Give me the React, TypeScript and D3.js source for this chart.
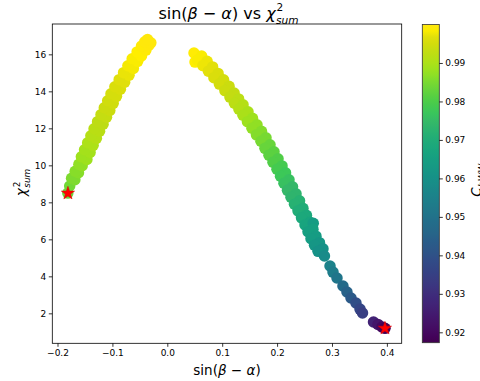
import React, { useEffect, useRef } from 'react';
import * as d3 from 'd3';

// [sin(beta-alpha), chi2_sum, colour value]
type Pt = [number, number, number];

const leftBranch: Pt[] = [
  [-0.1812, 8.5, 0.9835],
  [-0.1778, 8.88, 0.9841],
  [-0.1684, 9.22, 0.9852], [-0.1744, 9.3, 0.9852],
  [-0.1618, 9.6, 0.9863], [-0.1678, 9.68, 0.9863],
  [-0.1551, 9.98, 0.9874], [-0.1611, 10.06, 0.9874],
  [-0.1465, 10.32, 0.9885], [-0.1565, 10.46, 0.9885],
  [-0.1407, 10.7, 0.9893], [-0.1507, 10.84, 0.9893],
  [-0.1351, 11.08, 0.9901], [-0.1451, 11.22, 0.9901],
  [-0.1292, 11.46, 0.991], [-0.1392, 11.6, 0.991],
  [-0.1234, 11.84, 0.9917], [-0.1334, 11.98, 0.9917],
  [-0.117, 12.22, 0.9925], [-0.127, 12.36, 0.9925],
  [-0.1108, 12.6, 0.9933], [-0.1208, 12.74, 0.9933],
  [-0.1048, 12.97, 0.994], [-0.1148, 13.11, 0.994],
  [-0.0986, 13.35, 0.9946], [-0.1086, 13.49, 0.9946],
  [-0.0926, 13.73, 0.9952], [-0.1026, 13.87, 0.9952],
  [-0.0855, 14.11, 0.9959], [-0.0955, 14.25, 0.9959],
  [-0.0777, 14.49, 0.9966], [-0.0877, 14.63, 0.9966],
  [-0.0697, 14.87, 0.9972], [-0.0797, 15.01, 0.9972],
  [-0.0618, 15.24, 0.9978], [-0.0718, 15.38, 0.9978],
  [-0.054, 15.62, 0.9983], [-0.064, 15.76, 0.9983],
  [-0.047, 15.91, 0.9987], [-0.055, 16.13, 0.9987],
  [-0.039, 16.23, 0.9991], [-0.047, 16.45, 0.9991],
  [-0.034, 16.48, 0.9994], [-0.041, 16.68, 0.9994],
  [-0.03, 16.62, 0.9995], [-0.036, 16.8, 0.9995],
];

const rightBranch: Pt[] = [
  [0.0486, 16.07, 0.9988],
  [0.0505, 15.58, 0.9987],
  [0.0625, 15.91, 0.9983], [0.0549, 15.69, 0.9983],
  [0.0725, 15.62, 0.9976], [0.0649, 15.39, 0.9976],
  [0.0825, 15.32, 0.9969], [0.0749, 15.09, 0.9969],
  [0.0925, 14.97, 0.9961], [0.0849, 14.74, 0.9961],
  [0.1025, 14.62, 0.9951], [0.0949, 14.39, 0.9951],
  [0.1125, 14.27, 0.9941], [0.1049, 14.04, 0.9941],
  [0.1217, 13.91, 0.993], [0.1141, 13.69, 0.993],
  [0.1299, 13.59, 0.992], [0.1223, 13.36, 0.992],
  [0.138, 13.27, 0.991], [0.1304, 13.04, 0.991],
  [0.147, 12.89, 0.9898], [0.1378, 12.71, 0.9898],
  [0.1552, 12.54, 0.9886], [0.146, 12.36, 0.9886],
  [0.1634, 12.19, 0.9873], [0.1542, 12.01, 0.9873],
  [0.1716, 11.84, 0.986], [0.1624, 11.65, 0.986],
  [0.1798, 11.49, 0.9845], [0.1706, 11.3, 0.9845],
  [0.1871, 11.11, 0.9832], [0.1779, 10.92, 0.9832],
  [0.1944, 10.73, 0.9818], [0.1852, 10.55, 0.9818],
  [0.2017, 10.35, 0.9804], [0.1925, 10.17, 0.9804],
  [0.209, 9.97, 0.9789], [0.1998, 9.79, 0.9789],
  [0.2154, 9.6, 0.9775], [0.2062, 9.41, 0.9775],
  [0.2217, 9.22, 0.9762], [0.2125, 9.03, 0.9762],
  [0.2281, 8.84, 0.9747], [0.2189, 8.65, 0.9747],
  [0.2345, 8.46, 0.9732], [0.2253, 8.28, 0.9732],
  [0.2409, 8.08, 0.9717], [0.2317, 7.9, 0.9717],
  [0.2471, 7.68, 0.9701], [0.2381, 7.54, 0.9701],
  [0.2535, 7.3, 0.9685], [0.2445, 7.16, 0.9685],
  [0.2599, 6.92, 0.9669], [0.2509, 6.78, 0.9669],
  [0.2659, 6.87, 0.964],
  [0.2653, 6.55, 0.9654], [0.2563, 6.41, 0.9654],
  [0.2708, 6.17, 0.9639], [0.2618, 6.03, 0.9639],
  [0.2772, 5.82, 0.9621], [0.2682, 5.68, 0.9621],
  [0.2836, 5.49, 0.9603], [0.2746, 5.35, 0.9603],
  [0.2863, 5.1, 0.9582],
  [0.2964, 4.56, 0.9551],
  [0.3018, 4.23, 0.9533],
  [0.3091, 3.91, 0.951],
  [0.32, 3.48, 0.9474],
  [0.3273, 3.15, 0.9449],
  [0.3346, 2.83, 0.9424],
  [0.3437, 2.56, 0.9391],
  [0.351, 2.23, 0.9364],
  [0.3556, 2.02, 0.9347],
  [0.3756, 1.53, 0.9268],
  [0.3838, 1.4, 0.9234],
  [0.3911, 1.26, 0.9204],
  [0.3965, 1.19, 0.918],
];

const stars: [number, number][] = [[-0.181, 8.49], [0.3965, 1.19]];

const xTicks = [-0.2, -0.1, 0.0, 0.1, 0.2, 0.3, 0.4];
const yTicks = [2, 4, 6, 8, 10, 12, 14, 16];
const cTicks = [0.92, 0.93, 0.94, 0.95, 0.96, 0.97, 0.98, 0.99];
const xDomain = [-0.2095, 0.427];
const yDomain = [0.38, 17.64];
const cDomain = [0.9173, 1.0];

const W = 480;
const H = 381;
const M = { left: 52.3, right: 401.7, top: 24, bottom: 343.3 };
const CB = { x: 422.3, w: 17, top: 24.5, bottom: 342.7 };
const FONT = "'DejaVu Sans', sans-serif";

// viridis, slightly deeper like the original render
const cmap = (t: number) => {
  const h = d3.hsl(d3.interpolateViridis(t));
  h.s = Math.min(1, h.s * 1.12);
  h.l = h.l * 0.93;
  return h.formatHex();
};

export default function App() {
  const svgRef = useRef<SVGSVGElement>(null);

  useEffect(() => {
    if (!svgRef.current) return;
    const svg = d3.select(svgRef.current);
    svg.selectAll('*').remove();

    const x = d3.scaleLinear().domain(xDomain).range([M.left, M.right]);
    const y = d3.scaleLinear().domain(yDomain).range([M.bottom, M.top]);
    const c = d3.scaleSequential(cmap).domain(cDomain);
    const cy = d3.scaleLinear().domain(cDomain).range([CB.bottom, CB.top]);

    svg.append('rect').attr('width', W).attr('height', H).attr('fill', '#fff');

    // scatter
    svg.append('g')
      .selectAll('circle')
      .data([...leftBranch, ...rightBranch])
      .join('circle')
      .attr('cx', d => x(d[0]))
      .attr('cy', d => y(d[1]))
      .attr('r', 5.75)
      .attr('fill', d => c(d[2]));

    // best points
    svg.append('g')
      .selectAll('path')
      .data(stars)
      .join('path')
      .attr('transform', d => `translate(${x(d[0])},${y(d[1])})`)
      .attr('d', d3.symbol(d3.symbolStar, 55)()!)
      .attr('fill', '#ff0000')
      .attr('stroke', '#e00000')
      .attr('stroke-width', 0.5);

    // axes
    const styleAxis = (g: d3.Selection<SVGGElement, unknown, null, undefined>) => {
      g.select('.domain').remove();
      g.selectAll('line').attr('stroke', '#000').attr('stroke-width', 0.8);
      g.selectAll('text').attr('fill', '#000').style('font-family', FONT).style('font-size', '9px');
    };

    svg.append('g')
      .attr('transform', `translate(0,${M.bottom})`)
      .call(d3.axisBottom(x).tickValues(xTicks).tickSize(3.5).tickPadding(2.5).tickFormat(d3.format('.1f')))
      .call(styleAxis);

    svg.append('g')
      .attr('transform', `translate(${M.left},0)`)
      .call(d3.axisLeft(y).tickValues(yTicks).tickSize(3.5).tickPadding(2.5).tickFormat(d3.format('d')))
      .call(styleAxis);

    svg.append('rect')
      .attr('x', M.left).attr('y', M.top)
      .attr('width', M.right - M.left).attr('height', M.bottom - M.top)
      .attr('fill', 'none').attr('stroke', '#000').attr('stroke-width', 0.8);

    // colorbar
    const grad = svg.append('defs').append('linearGradient')
      .attr('id', 'cbar').attr('x1', 0).attr('y1', 1).attr('x2', 0).attr('y2', 0);
    d3.range(0, 1.0001, 0.02).forEach(t => {
      grad.append('stop').attr('offset', t).attr('stop-color', cmap(t));
    });
    svg.append('rect')
      .attr('x', CB.x).attr('y', CB.top).attr('width', CB.w).attr('height', CB.bottom - CB.top)
      .attr('fill', 'url(#cbar)').attr('stroke', '#333').attr('stroke-width', 0.8);
    svg.append('g')
      .attr('transform', `translate(${CB.x + CB.w},0)`)
      .call(d3.axisRight(cy).tickValues(cTicks).tickSize(3.5).tickPadding(2.5).tickFormat(d3.format('.2f')))
      .call(styleAxis);

    // math-ish labels: main text, then stacked super/subscript after measuring
    const mathLabel = (
      g: d3.Selection<SVGGElement, unknown, null, undefined>,
      parts: [string, boolean][],
      size: number,
      sup: string | null,
      sub: string | null,
    ) => {
      const t = g.append('text').style('font-family', FONT).style('font-size', `${size}px`).attr('fill', '#000');
      parts.forEach(([s, it]) => t.append('tspan').attr('font-style', it ? 'italic' : 'normal').text(s));
      const base = (t.node() as SVGTextElement).getComputedTextLength();
      const small = size * 0.66;
      if (sup) g.append('text').attr('x', base + 1).attr('y', -size * 0.46)
        .style('font-family', FONT).style('font-size', `${small}px`).text(sup);
      if (sub) g.append('text').attr('x', base + 0.5).attr('y', size * 0.33)
        .style('font-family', FONT).style('font-size', `${small}px`).attr('font-style', 'italic').text(sub);
      const subW = sub ? sub.length * small * 0.6 : 0;
      return base + Math.max(subW, sup ? small * 0.64 : 0) + 1;
    };

    // title
    const tg = svg.append('g');
    const tw = mathLabel(tg, [['sin(', false], ['β', true], [' − ', false], ['α', true], [') vs ', false], ['χ', true]], 16, '2', 'sum');
    tg.attr('transform', `translate(${(M.left + M.right) / 2 - tw / 2},18.5)`);

    // x label
    const xg = svg.append('g');
    const xw = mathLabel(xg, [['sin(', false], ['β', true], [' − ', false], ['α', true], [')', false]], 13.5, null, null);
    xg.attr('transform', `translate(${(M.left + M.right) / 2 - xw / 2 + 0.5},375)`);

    // y label
    const yg = svg.append('g');
    const yw = mathLabel(yg, [['χ', true]], 13.5, '2', 'sum');
    yg.attr('transform', `translate(26,${(M.top + M.bottom) / 2 + yw / 2}) rotate(-90)`);

    // colorbar label (cut by the right edge, as in the original)
    const cg = svg.append('g');
    const cw = mathLabel(cg, [['C', true]], 13.5, null, 'hWW');
    cg.attr('transform', `translate(481,${(CB.top + CB.bottom) / 2 + cw / 2}) rotate(-90)`);
  }, []);

  return (
    <svg
      ref={svgRef}
      width={W}
      height={H}
      style={{ position: 'absolute', left: 0, top: 0, display: 'block' }}
    />
  );
}
